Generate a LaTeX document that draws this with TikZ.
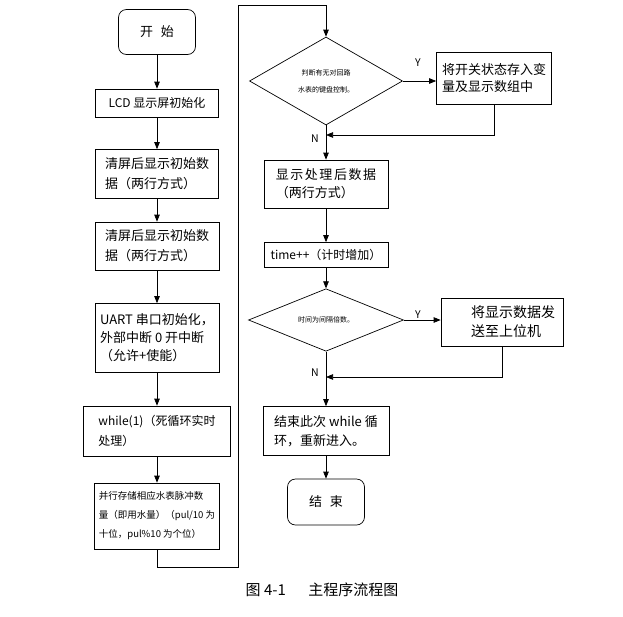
\documentclass[tikz,border=0pt]{standalone}
\usepackage{fontspec}
\setmainfont{Noto Sans CJK SC}
\usetikzlibrary{arrows.meta,shapes.geometric}

\begin{document}
\begin{tikzpicture}[x=1pt, y=-1pt, line width=0.7pt,
  box/.style={draw, align=left, inner sep=0pt, font=\fontsize{13}{20}\selectfont},
  term/.style={box, rounded corners=8pt, align=center},
  decide/.style={draw, shape=diamond, inner sep=0pt, align=center,
    font=\fontsize{7}{17}\selectfont},
  flow/.style={-{Triangle[length=7pt,width=5.5pt]}},
  yn/.style={font=\fontsize{10.5}{12}\selectfont}]
  \useasboundingbox (0,0) rectangle (623,616);
  % left column
  \node[term, minimum width=77pt, minimum height=45pt] (start) at (157,32) {开\hspace{0.6em}始};
  \node[box, font=\fontsize{12}{18}\selectfont, minimum width=123pt, minimum height=28pt] (lcd) at (157,103) {LCD 显示屏初始化};
  \node[box, minimum width=123pt, minimum height=49pt] (clr1) at (157,174) {清屏后显示初始数\\据（两行方式）};
  \node[box, minimum width=124pt, minimum height=48pt] (clr2) at (157,246) {清屏后显示初始数\\据（两行方式）};
  \node[box, font=\fontsize{13}{18}\selectfont, minimum width=124pt, minimum height=69pt] (uart) at (157,338) {UART 串口初始化，\\外部中断 0 开中断\\（允许+使能）};
  \node[box, font=\fontsize{12}{20}\selectfont, minimum width=147pt, minimum height=50pt] (loop) at (157,431) {while(1)（死循环实时\\处理）};
  \node[box, font=\fontsize{9.5}{19}\selectfont, minimum width=125pt, minimum height=66pt] (store) at (157,516) {并行存储相应水表脉冲数\\量（即用水量）（pul/10 为\\十位，pul\%10 为个位）};
  % right column
  \node[decide, minimum width=153pt, minimum height=88pt] (d1) at (326,81) {判断有无对回路\\水表的键盘控制。};
  \node[box, font=\fontsize{13}{17}\selectfont, minimum width=115pt, minimum height=52pt] (y1) at (494,78) {将开关状态存入变\\量及显示数组中};
  \node[box, font=\fontsize{13}{18}\selectfont, minimum width=124pt, minimum height=48pt] (disp) at (326,184) {{\addfontfeatures{LetterSpace=12}显示处理后数据}\\（两行方式）};
  \node[box, font=\fontsize{12}{18}\selectfont, minimum width=124pt, minimum height=25pt] (time) at (326,255) {time++（计时增加）};
  \node[decide, minimum width=155pt, minimum height=61pt] (d2) at (326,320) {时间为间隔倍数。};
  \node[box, font=\fontsize{14}{19}\selectfont, minimum width=122pt, minimum height=48pt] (y2) at (502,322) {\hspace*{22pt}将显示数据发\\\hspace*{22pt}送至上位机};
  \node[box, font=\fontsize{13}{19}\selectfont, minimum width=126pt, minimum height=49pt] (again) at (326,431) {结束此次 while 循\\环，重新进入。};
  \node[term, minimum width=77pt, minimum height=46pt] (stop) at (326,502) {结\hspace{0.6em}束};
  \node[yn] (y1lbl) at (418,63) {Y};
  \node[yn] (n1lbl) at (315,139) {N};
  \node[yn] (y2lbl) at (418,315) {Y};
  \node[yn] (n2lbl) at (315,373) {N};
  \node[font=\fontsize{15}{18}\selectfont] (cap) at (322,590) {图 4-1\hspace{1.5em}主程序流程图};
  \coordinate (bot) at (238,567);
  \coordinate (top) at (238,5);
  \coordinate (j1) at (326,135);
  \coordinate (j2) at (326,377);
  % connectors
  \draw[flow] (start) -- (lcd);
  \draw[flow] (lcd) -- (clr1);
  \draw[flow] (clr1) -- (clr2);
  \draw[flow] (clr2) -- (uart);
  \draw[flow] (uart) -- (loop);
  \draw[flow] (loop) -- (store);
  \draw[flow] (store.south) |- (bot) -- (top) -| (d1.north);
  \draw[flow] (d1.east) -- (d1.east -| y1.west);
  \draw[flow] (y1.south) |- (j1);
  \draw[flow] (d1.south) -- (disp.north);
  \draw[flow] (disp) -- (time);
  \draw[flow] (time) -- (d2.north);
  \draw[flow] (d2.east) -- (d2.east -| y2.west);
  \draw[flow] (y2.south) |- (j2);
  \draw[flow] (d2.south) -- (again.north);
  \draw[flow] (again) -- (stop);
\end{tikzpicture}
\end{document}
